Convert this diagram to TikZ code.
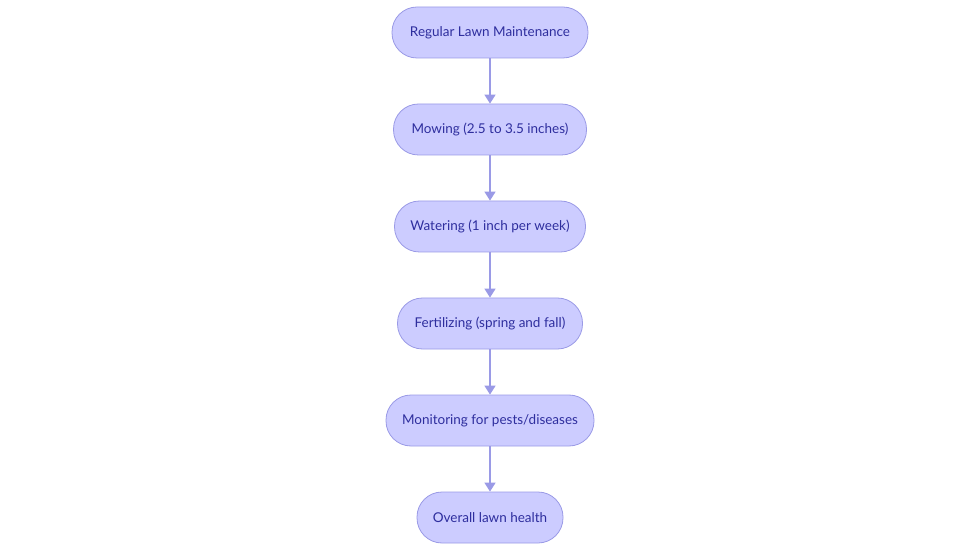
\documentclass[tikz,border=0pt]{standalone}
\usepackage{fontspec}
\setmainfont{Lato}
\usetikzlibrary{arrows.meta}
\definecolor{nodefill}{HTML}{CCCCFF}
\definecolor{nodedraw}{HTML}{9A9AE6}
\definecolor{linecol}{HTML}{9A9AE6}
\definecolor{textcol}{HTML}{2E2E9E}
\begin{document}
\begin{tikzpicture}[x=1pt,y=-1pt,
  box/.style={draw=nodedraw,fill=nodefill,line width=0.8pt,rounded corners=25pt,
    minimum height=51pt,inner sep=0pt,text=textcol,font=\fontsize{13.5}{16}\selectfont},
  conn/.style={draw=linecol,line width=1.6pt,-{Triangle[length=9pt,width=11pt]}}]
\useasboundingbox (0,0) rectangle (980,553);
\node[box,minimum width=196pt] (n1) at (490,32.5) {Regular Lawn Maintenance};
\node[box,minimum width=193pt] (n2) at (490,129.5) {Mowing (2.5 to 3.5 inches)};
\node[box,minimum width=191pt] (n3) at (490,226.5) {Watering (1 inch per week)};
\node[box,minimum width=185pt] (n4) at (490,323.5) {Fertilizing (spring and fall)};
\node[box,minimum width=208pt] (n5) at (490,420.5) {Monitoring for pests/diseases};
\node[box,minimum width=146pt] (n6) at (490,517.5) {Overall lawn health};
\draw[conn] (n1) -- (n2);
\draw[conn] (n2) -- (n3);
\draw[conn] (n3) -- (n4);
\draw[conn] (n4) -- (n5);
\draw[conn] (n5) -- (n6);
\end{tikzpicture}
\end{document}
